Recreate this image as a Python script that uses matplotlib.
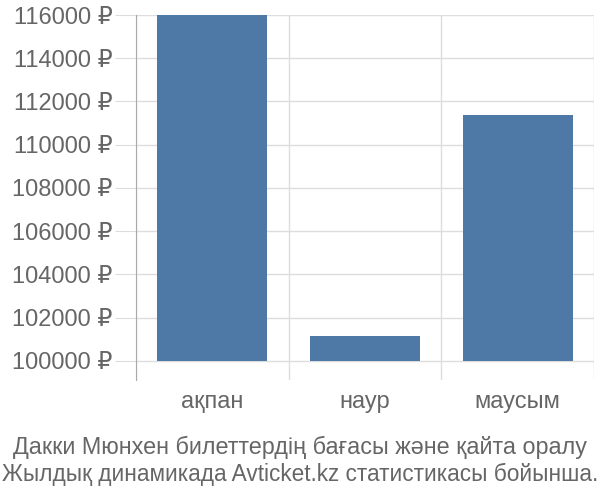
import numpy as np
import matplotlib.pyplot as plt
from matplotlib.ticker import FuncFormatter

plt.rcParams['font.family'] = ['Liberation Sans', 'DejaVu Sans']

# деректер
months = ['ақпан', 'наур', 'маусым']
prices = [116000, 101150, 111380]
base = 100000
yticks = np.arange(100000, 116001, 2000)

bar_color = '#4e79a7'
text_color = '#666666'
grid_color = '#dddddd'

fig = plt.figure(figsize=(6, 5), dpi=100)
ax = fig.add_axes([0.2267, 0.24, 0.7633, 0.73])

x = np.arange(len(months))
ax.bar(x, np.array(prices) - base, bottom=base, width=0.72,
       color=bar_color, zorder=3)

ax.set_xlim(-0.5, len(months) - 0.5)
ax.set_ylim(99120, 116000)
ax.set_yticks(yticks)
ax.yaxis.set_major_formatter(FuncFormatter(lambda v, p: '%d ₽' % v))
ax.set_xticks(x)
ax.set_xticklabels(months)
ax.set_xticks(np.arange(-0.5, len(months)), minor=True)

ax.grid(axis='y', color=grid_color, linewidth=1, zorder=0)
ax.grid(axis='x', which='minor', color=grid_color, linewidth=1, zorder=0)

for s in ['top', 'right', 'bottom']:
    ax.spines[s].set_visible(False)
ax.spines['left'].set_color('#aaaaaa')

ax.tick_params(axis='y', length=15, color=grid_color, labelsize=17,
               labelcolor=text_color, pad=2)
ax.tick_params(axis='x', which='major', length=0, labelsize=17,
               labelcolor=text_color, pad=8)
ax.tick_params(axis='x', which='minor', length=0)

fig.text(0.5, 0.105, 'Дакки Мюнхен билеттердің бағасы және қайта оралу',
         ha='center', va='center', fontsize=16.8, color=text_color)
fig.text(0.5, 0.052, 'Жылдық динамикада Avticket.kz статистикасы бойынша.',
         ha='center', va='center', fontsize=16.3, color=text_color)

fig.savefig('out.png', dpi=100)
